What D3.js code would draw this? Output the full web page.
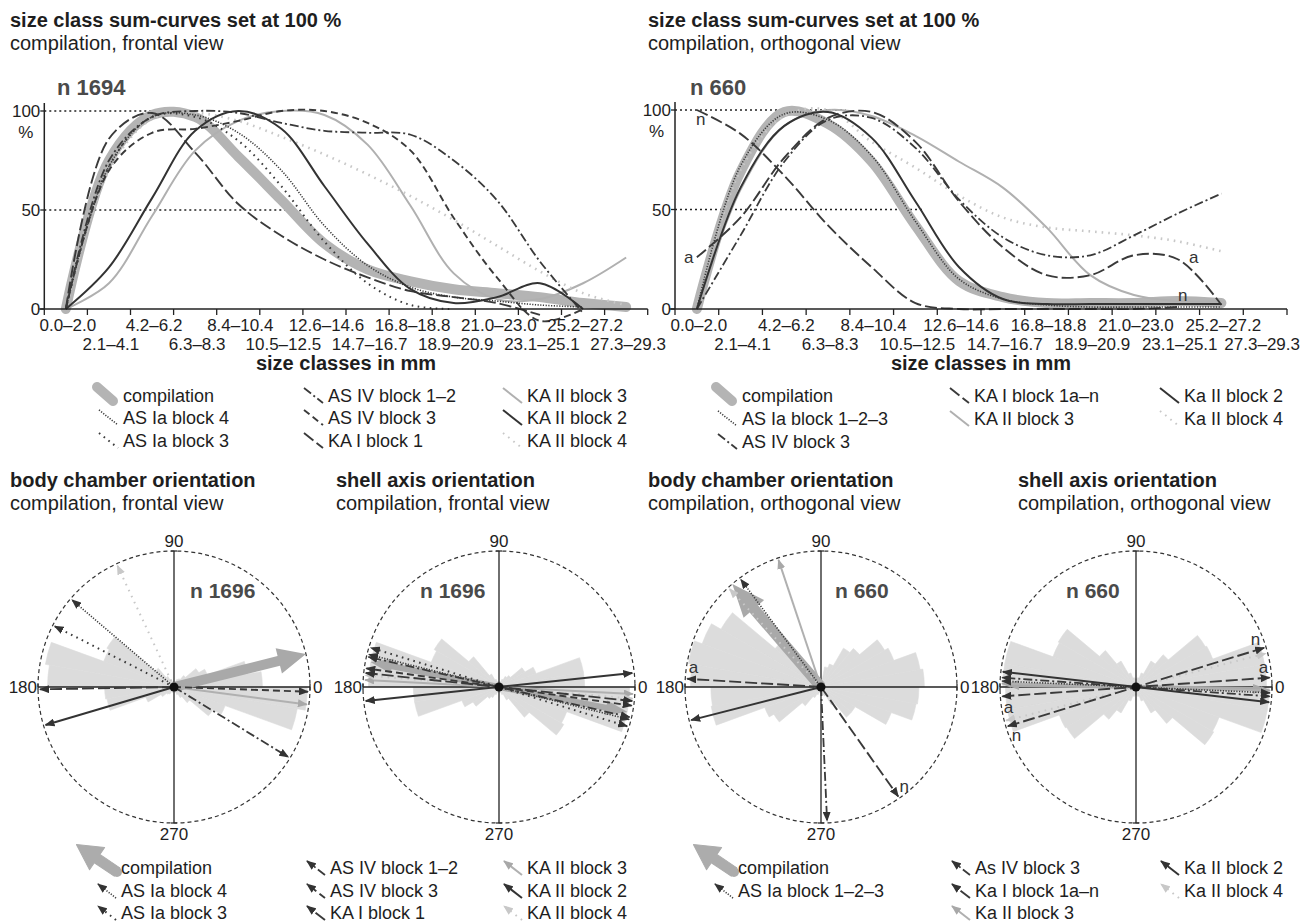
<!DOCTYPE html>
<html>
<head>
<meta charset="utf-8">
<script src="https://cdn.jsdelivr.net/npm/d3@7"></script>
<style>
  body { margin: 0; background: #fff; }
  svg { display: block; }
  text { font-family: "Liberation Sans", Arial, sans-serif; fill: #1e1e1e; }
</style>
</head>
<body>
<div id="fig"></div>
<script>
var size_classes = ["0.0–2.0", "2.1–4.1", "4.2–6.2", "6.3–8.3", "8.4–10.4", "10.5–12.5", "12.6–14.6",
                    "14.7–16.7", "16.8–18.8", "18.9–20.9", "21.0–23.0", "23.1–25.1", "25.2–27.2", "27.3–29.3"];
var ref_levels = [100, 50];

// sum-curves, frontal view (% of maximum per size class)
var fr_compilation = [0, 75, 98, 97, 77, 55, 33, 20, 14, 10, 8, 6, 3, 1];
var fr_as1_b4  = [0, 72, 97, 98, 89, 70, 42, 22, 11, 6, 4, 2, 1, null];
var fr_as1_b3  = [0, 72, 97, 97, 85, 62, 34, 13, 2, 0, null, null, null, null];
var fr_as4_b12 = [0, 75, 97, 100, 99, 94, 90, 89, 88, 75, 55, 24, -2, null];
var fr_as4_b3  = [0, 70, 89, 91, 95, 100, 100, 94, 80, 46, 16, -6, 0, null];
var fr_ka1_b1  = [0, 86, 99, 79, 53, 37, 25, 16, 9, 6, 3, -3, null, null];
var fr_ka2_b3  = [0, 13, 47, 80, 95, 100, 98, 83, 52, 18, 5, 5, 13, 26];
var fr_ka2_b2  = [0, 21, 56, 90, 100, 91, 62, 33, 10, 3, 6, 13, 0, null];
var fr_ka2_b4  = [0, 70, 96, 99, 95, 87, 78, 68, 57, 45, 32, 19, 8, 2];
var fr_labels = ["compilation", "AS Ia block 4", "AS Ia block 3", "AS IV block 1–2", "AS IV block 3",
                 "KA I block 1", "KA II block 3", "KA II block 2", "KA II block 4"];
var fr_style_keys = ["comp", "dotDense", "dotSparse", "dashDot", "dash", "longDash", "grey", "dark", "greyDot"];
var fr_ref_ends = [2.0, 5.1];

// sum-curves, orthogonal view
var or_compilation = [0, 69, 99, 93, 74, 42, 14, 6, 3, 3, 3, 4, 3, null];
var or_as1_b123 = [0, 72, 98, 95, 77, 44, 15, 5, 2, 1, 1, 1, 1, null];
var or_as4_b3   = [0, 37, 74, 95, 96, 81, 55, 36, 27, 27, 37, 48, 58, null];
var or_ka1_a    = [26, 46, 76, 96, 99, 84, 54, 31, 17, 17, 27, 25, 2, null];
var or_ka1_n    = [100, 88, 67, 42, 21, 3, 0, 0, 0, 0, 0, 1, null, null];
var or_ka2_b3   = [0, 60, 92, 100, 97, 87, 74, 61, 41, 17, 7, 4, 4, null];
var or_ka2_b2   = [0, 61, 92, 99, 86, 54, 21, 5, 2.5, 2.5, 2.5, 2.5, 2.5, null];
var or_ka2_b4   = [0, 70, 97, 100, 84, 71, 57, 46, 41, 39, 37, 34, 29, null];
var or_labels = ["compilation", "AS Ia block 1–2–3", "AS IV block 3", "KA I block 1a–n", "KA II block 3",
                 "Ka II block 2", "Ka II block 4"];
var or_style_keys = ["comp", "dotDense", "dashDot", "longDash", "grey", "dark", "greyDot"];
var or_ref_ends = [3.4, 5.2];

// rose diagrams: 10 degree classes starting at 0 (east), counter-clockwise, % of circle radius
var body_fr_freq = [65, 55, 26, 21, 11, 7, 6, 4, 4, 4, 4, 6, 9, 18, 57, 55, 96, 93,
                    51, 50, 22, 11, 7, 6, 4, 4, 4, 4, 4, 6, 9, 15, 33, 40, 92, 98];
var shell_fr_freq = [63, 63, 29, 22, 11, 9, 6, 4, 4, 4, 4, 6, 11, 29, 55, 53, 96, 96];   // axial, 0-180
var body_or_freq = [76, 74, 57, 54, 37, 33, 18, 15, 6, 4, 6, 9, 18, 44, 85, 93, 99, 96,
                    81, 82, 44, 40, 18, 9, 6, 4, 4, 4, 6, 7, 15, 29, 29, 55, 71, 72];
var shell_or_freq = [96, 96, 60, 59, 31, 22, 11, 7, 6, 6, 7, 11, 22, 35, 66, 65, 98, 98]; // axial

// mean directions (degrees)
var body_fr_dir = [14, 139.5, 153, 328.5, 358, 181, 352.5, 196.5, 115];
var shell_fr_axis = [169, 166, 163, 167, 172, 174, 177, 6, 175];
var body_or_keys = ["comp", "dotDense", "dashDot", "longDash", "longDash", "grey", "dark", "greyDot"];
var body_or_tags = ["", "", "", "a", "n", "", "", ""];
var body_or_dir = [130.7, 126.7, 272.6, 176.5, 305.2, 108.5, 194.3, 133];
var shell_or_axis = [179, 177.5, 176, 4, 17, 178.5, 173.5, 14.5];
var or_rose_legend = ["compilation", "AS Ia block 1–2–3", "As IV block 3", "Ka I block 1a–n", "Ka II block 3",
                      "Ka II block 2", "Ka II block 4"];

var styles = {
  comp:      {stroke: "#b4b4b4", width: 10, dash: null},
  dotDense:  {stroke: "#3a3a3a", width: 1.6, dash: "1.2,1.5"},
  dotSparse: {stroke: "#3a3a3a", width: 2, dash: "1.6,4.4"},
  dashDot:   {stroke: "#3a3a3a", width: 1.8, dash: "9,3,2,3"},
  dash:      {stroke: "#3a3a3a", width: 1.9, dash: "7,4"},
  longDash:  {stroke: "#3a3a3a", width: 1.9, dash: "12,4"},
  grey:      {stroke: "#b0b0b0", width: 2, dash: null},
  dark:      {stroke: "#333333", width: 2, dash: null},
  greyDot:   {stroke: "#c8c8c8", width: 2.6, dash: "1.6,5"}
};
var draw_order = ["comp", "grey", "greyDot", "dotDense", "dotSparse", "dashDot", "dash", "longDash", "dark"];

function draw_figure()
{
  var W = 1301;
  var svg = d3.select("#fig").append("svg").attr("width", W).attr("height", 922);
  var defs = svg.append("defs");
  var head_cols = ["#333333", "#a8a8a8", "#c8c8c8"];
  head_cols.forEach(function(c, i) {
    defs.append("marker").attr("id", "head" + i)
      .attr("viewBox", "0 0 10 8").attr("refX", 9).attr("refY", 4)
      .attr("markerWidth", 10).attr("markerHeight", 8)
      .attr("markerUnits", "userSpaceOnUse")
      .attr("orient", "auto-start-reverse")
      .append("path").attr("d", "M0,0L10,4L0,8Z").attr("fill", c);
  });
  function head(key) {
    if (key == "grey") return "url(#head1)";
    if (key == "greyDot") return "url(#head2)";
    return "url(#head0)";
  }
  function by_order(a, b) { return draw_order.indexOf(a.key) - draw_order.indexOf(b.key); }

  function heading(x, y, bold, sub) {
    svg.append("text").attr("x", x).attr("y", y).attr("font-size", 20).attr("font-weight", "bold").text(bold);
    svg.append("text").attr("x", x).attr("y", y + 23).attr("font-size", 20).text(sub);
  }

  function big_arrow(a, b, shaft, hw, hl, both) {
    var s = shaft / 2, h = hw / 2;
    var p = both
      ? [[a, 0], [a + hl, -h], [a + hl, -s], [b - hl, -s], [b - hl, -h], [b, 0], [b - hl, h], [b - hl, s], [a + hl, s], [a + hl, h]]
      : [[a, -s], [b - hl, -s], [b - hl, -h], [b, 0], [b - hl, h], [b - hl, s], [a, s]];
    return d3.line()(p) + "Z";
  }

  // ---------- sum-curve charts ----------
  function sum_chart(opt) {
    var x = d3.scaleBand().domain(size_classes).range([opt.x0, opt.x1]);
    var bw = x.bandwidth();
    var y = d3.scaleLinear().domain([0, 100]).range([opt.y0, opt.y100]);
    var px = function(i) { return x(size_classes[0]) + (i + 0.5) * bw; };
    var g = svg.append("g");

    ref_levels.forEach(function(lv, k) {
      g.append("line").attr("x1", opt.x0).attr("x2", px(opt.ref_ends[k]))
        .attr("y1", y(lv)).attr("y2", y(lv))
        .attr("stroke", "#222").attr("stroke-width", 1.4).attr("stroke-dasharray", "2,3");
    });

    var line = d3.line()
      .defined(function(d) { return d != null; })
      .x(function(d, i) { return px(i); })
      .y(function(d) { return y(d); })
      .curve(d3.curveCatmullRom.alpha(0.5));

    opt.series.slice().sort(by_order).forEach(function(s) {
      var st = styles[s.key];
      g.append("path").attr("d", line(s.values))
        .attr("fill", "none").attr("stroke", st.stroke).attr("stroke-width", st.width)
        .attr("stroke-dasharray", st.dash)
        .attr("stroke-linecap", s.key == "comp" ? "round" : "butt");
    });

    // x axis
    g.append("line").attr("x1", opt.x0 - 5).attr("x2", opt.x1).attr("y1", opt.y0).attr("y2", opt.y0)
      .attr("stroke", "#222").attr("stroke-width", 1.5);
    var ticks = size_classes.map(function(c) { return x(c); }).concat([opt.x1]);
    g.selectAll(".xt").data(ticks).enter().append("line")
      .attr("x1", function(d) { return d; }).attr("x2", function(d) { return d; })
      .attr("y1", opt.y0).attr("y2", opt.y0 + 6).attr("stroke", "#222").attr("stroke-width", 1.3);
    g.selectAll(".xl").data(size_classes).enter().append("text")
      .attr("x", function(d) { return x(d) + bw / 2 + 2; })
      .attr("y", function(d, i) { return opt.y0 + (i % 2 ? 41 : 22); })
      .attr("text-anchor", "middle").attr("font-size", 17)
      .text(function(d) { return d; })
      .each(function() {
        // keep the last label inside the picture
        var b = this.getBBox();
        if (b.x + b.width > W - 1) d3.select(this).attr("x", +d3.select(this).attr("x") - (b.x + b.width - W + 1));
      });
    g.append("text").attr("x", (opt.x0 + opt.x1) / 2).attr("y", 370)
      .attr("text-anchor", "middle").attr("font-size", 20).attr("font-weight", "bold")
      .text("size classes in mm");

    // y axis
    g.append("line").attr("x1", opt.x0).attr("x2", opt.x0).attr("y1", opt.y0).attr("y2", y(100) - 8)
      .attr("stroke", "#222").attr("stroke-width", 1.5);
    [0, 50, 100].forEach(function(v) {
      g.append("line").attr("x1", opt.x0 - 4).attr("x2", opt.x0).attr("y1", y(v)).attr("y2", y(v))
        .attr("stroke", "#222").attr("stroke-width", 1.3);
      g.append("text").attr("x", opt.x0 - 4).attr("y", y(v) + 6).attr("text-anchor", "end")
        .attr("font-size", 17).text(v);
    });
    g.append("text").attr("x", opt.x0 - 11).attr("y", y(100) + 27).attr("text-anchor", "end")
      .attr("font-size", 17).text("%");
    g.append("text").attr("x", opt.n_x).attr("y", 95).attr("font-size", 22).attr("font-weight", "bold")
      .style("fill", "#4a4a4a").text(opt.n_text);

    return {px: px, y: y, g: g};
  }

  heading(10, 27, "size class sum-curves set at 100 %", "compilation, frontal view");
  heading(648, 27, "size class sum-curves set at 100 %", "compilation, orthogonal view");

  var fr_values = [fr_compilation, fr_as1_b4, fr_as1_b3, fr_as4_b12, fr_as4_b3, fr_ka1_b1, fr_ka2_b3, fr_ka2_b2, fr_ka2_b4];
  sum_chart({
    x0: 44.3, x1: 647.7, y0: 309, y100: 111, ref_ends: fr_ref_ends, n_x: 57, n_text: "n 1694",
    series: fr_values.map(function(v, i) { return {values: v, key: fr_style_keys[i]}; })
  });

  var or_values = [or_compilation, or_as1_b123, or_as4_b3, or_ka1_a, or_ka2_b3, or_ka2_b2, or_ka2_b4, or_ka1_n];
  var or_keys = ["comp", "dotDense", "dashDot", "longDash", "grey", "dark", "greyDot", "longDash"];
  var rc = sum_chart({
    x0: 675, x1: 1287, y0: 309, y100: 110, ref_ends: or_ref_ends, n_x: 690, n_text: "n 660",
    series: or_values.map(function(v, i) { return {values: v, key: or_keys[i]}; })
  });
  // a / n labels of KA I block 1a-n
  var tag = function(t, xx, yy) {
    rc.g.append("text").attr("x", xx).attr("y", yy).attr("text-anchor", "middle")
      .attr("font-size", 17).style("fill", "#333").text(t);
  };
  tag("a", rc.px(0) - 8, rc.y(or_ka1_a[0]) + 6);
  tag("a", rc.px(11) + 16, rc.y(or_ka1_a[11]) + 4);
  tag("n", rc.px(0) + 4, rc.y(or_ka1_n[0]) + 15);
  tag("n", rc.px(11) + 5, rc.y(or_ka1_n[11]) - 6);

  // ---------- legends ----------
  function legend(labels, keys, cols, col_x, row_y, arrows) {
    cols.forEach(function(col, ci) {
      col.forEach(function(idx, ri) {
        var tx = col_x[ci], yc = row_y[ri];
        var st = styles[keys[idx]];
        if (keys[idx] == "comp") {
          if (arrows) {
            svg.append("path").attr("d", big_arrow(0, 49, 10, 27, 25, false))
              .attr("transform", "translate(" + (tx - 4) + "," + (yc + 5) + ")rotate(-146)")
              .attr("fill", "#acacac").attr("stroke", "#acacac").attr("stroke-width", 1)
              .attr("stroke-linejoin", "round");
            svg.append("circle").attr("cx", tx - 4).attr("cy", yc + 5).attr("r", 5).attr("fill", "#acacac");
          } else {
            svg.append("line").attr("x1", tx - 26).attr("y1", yc - 8).attr("x2", tx - 10).attr("y2", yc + 6)
              .attr("stroke", st.stroke).attr("stroke-width", 10).attr("stroke-linecap", "round");
          }
        } else {
          var ln = svg.append("line").attr("stroke", st.stroke)
            .attr("stroke-width", Math.min(st.width, 2)).attr("stroke-dasharray", st.dash);
          if (arrows) {
            ln.attr("x1", tx - 5).attr("y1", yc + 8).attr("x2", tx - 23).attr("y2", yc - 6)
              .attr("marker-end", head(keys[idx]));
          } else {
            ln.attr("x1", tx - 24).attr("y1", yc - 7).attr("x2", tx - 5).attr("y2", yc + 8);
          }
        }
        svg.append("text").attr("x", tx).attr("y", yc + 6.5).attr("font-size", 18).text(labels[idx]);
      });
    });
  }

  legend(fr_labels, fr_style_keys, [[0, 1, 2], [3, 4, 5], [6, 7, 8]], [123, 328, 527], [395, 417, 440], false);
  legend(or_labels, or_style_keys, [[0, 1, 2], [3, 4], [5, 6]], [742, 974, 1184], [395, 418, 441], false);
  legend(fr_labels, fr_style_keys, [[0, 1, 2], [3, 4, 5], [6, 7, 8]], [121, 330, 527], [867, 890, 912], true);
  legend(or_rose_legend, or_style_keys, [[0, 1], [2, 3, 4], [5, 6]], [738, 975, 1184], [867, 890, 912], true);

  // ---------- rose diagrams ----------
  heading(10, 487, "body chamber orientation", "compilation, frontal view");
  heading(336, 487, "shell axis orientation", "compilation, frontal view");
  heading(648, 487, "body chamber orientation", "compilation, orthogonal view");
  heading(1018, 487, "shell axis orientation", "compilation, orthogonal view");

  function rose(opt) {
    var R = 136, cy = 687;
    var r = d3.scaleLinear().domain([0, 100]).range([0, R]);
    var g = svg.append("g").attr("transform", "translate(" + opt.cx + "," + cy + ")");
    var freq = opt.axial ? opt.freq.concat(opt.freq) : opt.freq;
    var arc = d3.arc().innerRadius(0);
    var rad = Math.PI / 180;

    g.selectAll(".petal").data(freq).enter().append("path")
      .attr("d", function(d, i) {
        return arc({outerRadius: r(d), startAngle: (90 - (i + 1) * 10) * rad, endAngle: (90 - i * 10) * rad});
      })
      .attr("fill", "#dcdcdc").attr("stroke", "#dcdcdc").attr("stroke-width", 0.6);

    // cross and ring
    g.append("line").attr("x1", 0).attr("x2", 0).attr("y1", -R).attr("y2", R).attr("stroke", "#222").attr("stroke-width", 1.3);
    g.append("line").attr("x1", -R).attr("x2", R).attr("y1", 0).attr("y2", 0).attr("stroke", "#222").attr("stroke-width", 1.3);
    [[-R, 0, 1], [R, 0, 1], [0, -R, 0], [0, R, 0]].forEach(function(t) {
      g.append("line").attr("x1", t[0] - (t[2] ? 0 : 3)).attr("x2", t[0] + (t[2] ? 0 : 3))
        .attr("y1", t[1] - (t[2] ? 3 : 0)).attr("y2", t[1] + (t[2] ? 3 : 0))
        .attr("stroke", "#222").attr("stroke-width", 1.2);
    });
    g.append("circle").attr("r", R).attr("fill", "none").attr("stroke", "#333")
      .attr("stroke-width", 1.2).attr("stroke-dasharray", "4,3");

    g.append("text").attr("x", 0).attr("y", -R - 4).attr("text-anchor", "middle").attr("font-size", 17).text("90");
    g.append("text").attr("x", 0).attr("y", R + 17).attr("text-anchor", "middle").attr("font-size", 17).text("270");
    g.append("text").attr("x", -R - 1).attr("y", 6).attr("text-anchor", "end").attr("font-size", 17).text("180");
    g.append("text").attr("x", R + 3).attr("y", 6).attr("text-anchor", "start").attr("font-size", 17).text("0");
    g.append("text").attr("x", opt.n_dx).attr("y", -89).attr("font-size", 21).attr("font-weight", "bold")
      .style("fill", "#4a4a4a").text(opt.n_text);

    var arrows = opt.dir.map(function(d, i) { return {deg: d, key: opt.keys[i], tag: opt.tags ? opt.tags[i] : ""}; });
    arrows.sort(by_order).forEach(function(a) {
      var st = styles[a.key];
      if (a.key == "comp") {
        var p = opt.axial ? big_arrow(-(R - 5), R - 5, opt.big[0], opt.big[1], opt.big[2], true)
                          : big_arrow(0, R, opt.big[0], opt.big[1], opt.big[2], false);
        g.append("path").attr("d", p).attr("transform", "rotate(" + (-a.deg) + ")")
          .attr("fill", "#a9a9a9");
        return;
      }
      var L = R - 2, cs = Math.cos(a.deg * rad), sn = Math.sin(a.deg * rad);
      var ln = g.append("line").attr("x2", L * cs).attr("y2", -L * sn)
        .attr("x1", opt.axial ? -L * cs : 0).attr("y1", opt.axial ? L * sn : 0)
        .attr("stroke", st.stroke).attr("stroke-width", Math.min(st.width, 2))
        .attr("stroke-dasharray", st.dash).attr("marker-end", head(a.key));
      if (opt.axial) ln.attr("marker-start", head(a.key));
      if (a.tag) {
        var ends = opt.axial ? [a.deg, a.deg + 180] : [a.deg];
        ends.forEach(function(e) {
          var da = (a.tag == "a" && !opt.axial) ? -5.5 : 5;
          g.append("text").attr("x", (R - 7) * Math.cos((e + da) * rad))
            .attr("y", -(R - 7) * Math.sin((e + da) * rad) + 6)
            .attr("text-anchor", "middle").attr("font-size", 17).style("fill", "#333").text(a.tag);
        });
      }
    });
    g.append("circle").attr("r", 4.5).attr("fill", "#111");
  }

  rose({cx: 174, freq: body_fr_freq, axial: false, dir: body_fr_dir, keys: fr_style_keys,
        big: [10, 26, 28], n_dx: 16, n_text: "n 1696"});
  rose({cx: 499, freq: shell_fr_freq, axial: true, dir: shell_fr_axis, keys: fr_style_keys,
        big: [6, 15, 22], n_dx: -79, n_text: "n 1696"});
  rose({cx: 821, freq: body_or_freq, axial: false, dir: body_or_dir, keys: body_or_keys, tags: body_or_tags,
        big: [11, 27, 33], n_dx: 14, n_text: "n 660"});
  rose({cx: 1136, freq: shell_or_freq, axial: true, dir: shell_or_axis, keys: body_or_keys, tags: body_or_tags,
        big: [4, 10, 14], n_dx: -70, n_text: "n 660"});
}
draw_figure();
</script>
</body>
</html>
